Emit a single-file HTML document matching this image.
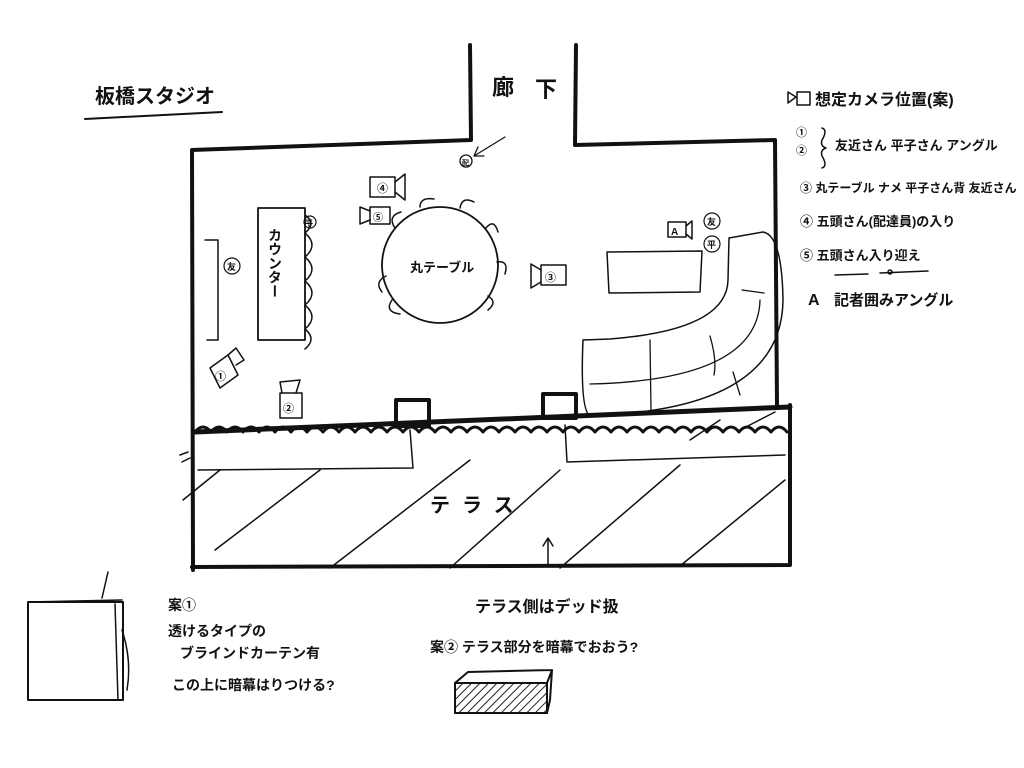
<!DOCTYPE html>
<html><head><meta charset="utf-8"><style>
html,body{margin:0;padding:0;background:#fff;}
svg{display:block}
text{font-family:"Liberation Sans","Noto Sans CJK JP",sans-serif;fill:#111;}
</style></head><body>
<svg width="1024" height="768" viewBox="0 0 1024 768" xmlns="http://www.w3.org/2000/svg">
<defs>
<pattern id="h" width="6" height="6" patternUnits="userSpaceOnUse" patternTransform="rotate(45)"><line x1="0" y1="0" x2="0" y2="6" stroke="#222" stroke-width="2"/></pattern>
</defs>
<g fill="none" stroke="#111" stroke-linecap="round" stroke-linejoin="round">
<path d="M85 119 L222 112" stroke-width="2"/>
<path d="M470 45 L471 140 L192 150 L193 570" stroke-width="4"/>
<path d="M576 45 L575 145 L775 140 L777 405" stroke-width="4"/>
<path d="M192 567 L790 565 L790 405" stroke-width="4"/>
<path d="M195 432 q8 -10 16 0 q8 -10 16 0 q8 -10 16 0 q8 -10 16 0 q8 -10 16 0 q8 -10 16 0 q8 -10 16 0 q8 -10 16 0 q8 -10 16 0 q8 -10 16 0 q8 -10 16 0 q8 -10 16 0 q8 -10 16 0 q8 -10 16 0 q8 -10 16 0 q8 -10 16 0 q8 -10 16 0 q8 -10 16 0 q8 -10 16 0 q8 -10 16 0 q8 -10 16 0 q8 -10 16 0 q8 -10 16 0 q8 -10 16 0 q8 -10 16 0 q8 -10 16 0 q8 -10 16 0 q8 -10 16 0 q8 -10 16 0 q8 -10 16 0 q8 -10 16 0 q8 -10 16 0 q8 -10 16 0 q8 -10 16 0 q8 -10 16 0 q8 -10 16 0 q8 -10 16 0" stroke-width="3"/>
<path d="M195 432 L790 407" stroke-width="5"/>
<rect x="396" y="400" width="33" height="26" stroke-width="4"/>
<rect x="543" y="394" width="33" height="24" stroke-width="4"/>
<path d="M410 430 L413 468 L198 470 M565 425 L567 462 L785 455" stroke-width="1.5"/>
<path d="M180 455 L188 452 M182 462 L190 458 M183 500 L220 470 M215 550 L320 470 M330 568 L470 460 M450 568 L560 470 M560 568 L680 465 M680 566 L785 480 M690 440 L720 420 M740 430 L775 412" stroke-width="1.5"/>
<path d="M548 565 L548 538 M543 546 L548 538 L553 546" stroke-width="1.5"/>
<rect x="258" y="208" width="47" height="132" stroke-width="1.8"/>
<path d="M205 240 L218 240 L218 340 L207 340" stroke-width="1.5"/>
<path d="M305 215 q12 8 0 18 q14 12 0 24 q14 12 0 24 q14 12 0 24 q14 12 0 24 q12 10 0 20" stroke-width="1.5"/>
<circle cx="440" cy="265" r="58" stroke-width="1.8"/>
<path d="M395 228 q-8 -12 6 -16 M420 207 q0 -10 14 -8 M460 208 q2 -12 14 -6 M486 228 q8 -10 12 4 M497 262 q12 -2 8 12 M488 296 q10 6 0 14 M386 276 q-12 6 -4 16 M392 300 q-8 12 8 14" stroke-width="1.5"/>
<path d="M607 252 L702 251 L700 292 L609 293 Z" stroke-width="1.5"/>
<path d="M729 238 L763 232 Q782 235 783 300 Q782 395 640 412 L590 416 Q580 410 583 340 L610 339 Q727 330 728 280 Z" stroke-width="1.5"/>
<path d="M764 293 L742 290 M760 300 Q758 380 590 384 M650 340 L651 410 M710 336 Q717 360 714 375 M733 372 L740 395" stroke-width="1.3"/>
<circle cx="466" cy="161" r="6" stroke-width="1.3"/>
<path d="M474 156 L505 137 M474 156 L484 156 M474 156 L478 147" stroke-width="1.3"/>
<rect x="370" y="177" width="25" height="20" stroke-width="1.5"/><path d="M395 182 L405 174 L405 200 L395 192" stroke-width="1.5"/>
<rect x="370" y="207" width="20" height="17" stroke-width="1.5"/><path d="M370 211 L360 207 L360 224 L370 220" stroke-width="1.5"/>
<rect x="541" y="265" width="25" height="20" stroke-width="1.5"/><path d="M541 270 L531 264 L531 288 L541 282" stroke-width="1.5"/>
<rect x="668" y="222" width="18" height="15" stroke-width="1.5"/><path d="M686 226 L692 221 L692 239 L686 234" stroke-width="1.5"/>
<path d="M210 368 L228 355 L238 375 L220 388 Z M228 355 L236 348 L244 360 L236 365" stroke-width="1.5"/>
<rect x="280" y="393" width="22" height="25" stroke-width="1.5"/><path d="M282 393 L280 382 L300 380 L296 393" stroke-width="1.5"/>
<circle cx="310" cy="222" r="6" stroke-width="1.2"/>
<circle cx="232" cy="266" r="8" stroke-width="1.2"/>
<circle cx="712" cy="221" r="8" stroke-width="1.2"/>
<circle cx="712" cy="244" r="8" stroke-width="1.2"/>
<path d="M788 92 L796 97 L788 103 Z M797 92 L810 92 L810 105 L797 105 Z" stroke-width="1.5"/>
<path d="M822 128 q6 2 0 12 q-2 6 4 8 q-6 2 -4 8 q6 10 0 12" stroke-width="1.5"/>
<path d="M835 275 L868 274 M880 273 L928 271" stroke-width="1.5"/>
<circle cx="890" cy="272" r="2" stroke-width="1.5"/>
<rect x="28" y="602" width="95" height="98" stroke-width="2"/>
<path d="M28 602 L122 600 M115 604 L118 700 M122 630 q10 30 5 60 M108 572 L102 598" stroke-width="1.5"/>
<rect x="455" y="683" width="92" height="30" fill="url(#h)" stroke-width="2"/>
<path d="M455 683 L468 672 L552 670 L547 683 M552 670 L550 700 L547 713" stroke-width="2"/>
</g>
<g font-size="14" font-weight="bold">
<text x="95" y="103" font-size="20">板橋スタジオ</text>
<text x="492" y="95" font-size="22">廊</text><text x="535" y="97" font-size="22">下</text>
<text x="815" y="105" font-size="16">想定カメラ位置(案)</text>
<text x="796" y="136" font-size="11">①</text><text x="796" y="154" font-size="11">②</text>
<text x="835" y="150" font-size="13">友近さん 平子さん アングル</text>
<text x="800" y="192" font-size="12">③ 丸テーブル ナメ 平子さん背 友近さん</text>
<text x="800" y="226" font-size="13">④ 五頭さん(配達員)の入り</text>
<text x="800" y="260" font-size="13">⑤ 五頭さん入り迎え</text>
<text x="808" y="305" font-size="16">A</text><text x="834" y="305" font-size="15">記者囲みアングル</text>
<text x="377" y="192" font-size="11">④</text><text x="373" y="221" font-size="10">⑤</text>
<text x="545" y="281" font-size="11">③</text>
<text x="671" y="235" font-size="10">A</text>
<text x="305" y="226" font-size="8">平</text>
<text x="227" y="270" font-size="9">友</text>
<text x="707" y="225" font-size="9">友</text><text x="707" y="248" font-size="9">平</text>
<text x="215" y="380" font-size="11">①</text><text x="283" y="412" font-size="11">②</text>
<text x="462" y="165" font-size="7">配</text>
<text x="410" y="272" font-size="13">丸テーブル</text>
<text font-size="14" x="275" y="228" writing-mode="tb">カウンター</text>
<text x="430" y="512" font-size="20" letter-spacing="12">テラス</text>
<text x="475" y="612" font-size="16">テラス側はデッド扱</text>
<text x="168" y="610" font-size="14">案①</text>
<text x="168" y="636" font-size="14">透けるタイプの</text>
<text x="180" y="658" font-size="14">ブラインドカーテン有</text>
<text x="172" y="690" font-size="14">この上に暗幕はりつける?</text>
<text x="430" y="652" font-size="14">案② テラス部分を暗幕でおおう?</text>
</g>
</svg>
</body></html>
